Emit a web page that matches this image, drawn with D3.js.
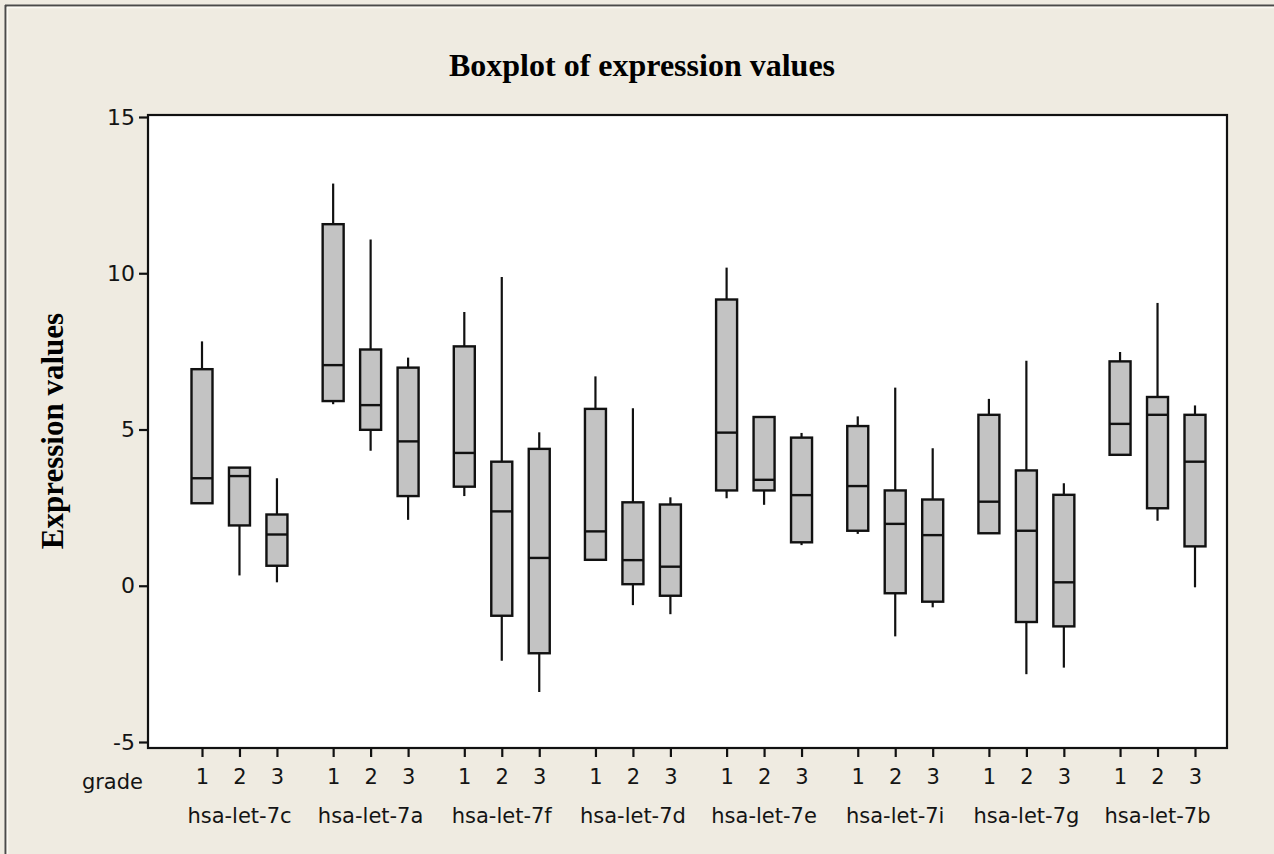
<!DOCTYPE html>
<html><head><meta charset="utf-8">
<script src="https://cdn.jsdelivr.net/npm/d3@7"></script>
<style>html,body{margin:0;padding:0;background:#EFEBE1;}svg{display:block;}</style>
</head><body>
<svg id="chart" width="1274" height="854"></svg>
<script>
// ---- data ----
const mirnas = ["hsa-let-7c","hsa-let-7a","hsa-let-7f","hsa-let-7d","hsa-let-7e","hsa-let-7i","hsa-let-7g","hsa-let-7b"];
const grades = ["1","2","3"];
const yTicks = [-5, 0, 5, 10, 15];
// per box, order: mirna-major, grade-minor
const whiskerLow  = [2.64,0.33,0.11, 5.81,4.32,2.11, 2.87,-2.40,-3.40, 0.83,-0.62,-0.91, 2.80,2.59,1.30, 1.66,-1.62,-0.69, 1.68,-2.83,-2.62, 4.19,2.08,-0.05];
const q1          = [2.64,1.93,0.64, 5.91,4.99,2.87, 3.17,-0.96,-2.16, 0.83,0.05,-0.32, 3.05,3.05,1.39, 1.76,-0.24,-0.51, 1.68,-1.16,-1.30, 4.19,2.48,1.26];
const medians     = [3.44,3.51,1.64, 7.06,5.78,4.62, 4.25,2.38,0.89, 1.74,0.82,0.61, 4.90,3.39,2.90, 3.19,1.98,1.62, 2.69,1.76,0.11, 5.18,5.47,3.97];
const q3          = [6.93,3.78,2.28, 11.57,7.56,6.98, 7.66,3.97,4.38, 5.66,2.67,2.60, 9.16,5.40,4.74, 5.11,3.05,2.76, 5.47,3.69,2.91, 7.18,6.04,5.47];
const whiskerHigh = [7.82,3.78,3.44, 12.87,11.08,7.30, 8.76,9.88,4.91, 6.70,5.68,2.83, 10.18,5.40,4.89, 5.42,6.34,4.40, 5.98,7.20,3.28, 7.48,9.05,5.77];

const boxes = [];
mirnas.forEach((m, gi) => grades.forEach((g, ii) => {
  const k = gi * 3 + ii;
  boxes.push({mirna: m, grade: g, pos: gi * 3.5 + ii,
    lo: whiskerLow[k], q1: q1[k], med: medians[k], q3: q3[k], hi: whiskerHigh[k]});
}));

const svg = d3.select("#chart");
const W = 1274, H = 854;
const frame = {left: 148, right: 1227, top: 115, bottom: 748};

const x = d3.scaleLinear().domain([0, 26.5]).range([202, 1195]);
const y = d3.scaleLinear().domain([-5, 15]).range([742, 117]);

// background + outer edge lines
svg.append("rect").attr("width", W).attr("height", H).attr("fill", "#EFEBE1");
svg.append("line").attr("x1", 5).attr("x2", W).attr("y1", 5.5).attr("y2", 5.5).attr("stroke", "#4a4a4a").attr("stroke-width", 2);
svg.append("line").attr("x1", 5.5).attr("x2", 5.5).attr("y1", 5).attr("y2", H).attr("stroke", "#4a4a4a").attr("stroke-width", 2);
svg.append("line").attr("x1", 7).attr("x2", W).attr("y1", 7.5).attr("y2", 7.5).attr("stroke", "#fbf9f4").attr("stroke-width", 1.5);
svg.append("line").attr("x1", 7.5).attr("x2", 7.5).attr("y1", 7).attr("y2", H).attr("stroke", "#fbf9f4").attr("stroke-width", 1.5);

// plot area
svg.append("rect").attr("x", frame.left).attr("y", frame.top)
  .attr("width", frame.right - frame.left).attr("height", frame.bottom - frame.top)
  .attr("fill", "#ffffff").attr("stroke", "#111").attr("stroke-width", 2.2);

// title
svg.append("text").attr("x", 642).attr("y", 76).attr("text-anchor", "middle")
  .attr("font-family", "'Liberation Serif', 'Times New Roman', serif").attr("font-weight", "bold")
  .attr("font-size", 32).attr("fill", "#000").text("Boxplot of expression values");

// y axis label
svg.append("text").attr("transform", "translate(63,431) rotate(-90)").attr("text-anchor", "middle")
  .attr("font-family", "'Liberation Serif', 'Times New Roman', serif").attr("font-weight", "bold")
  .attr("font-size", 31).attr("fill", "#000").text("Expression values");

// y axis
const yAxis = d3.axisLeft(y).tickValues(yTicks).tickSize(9).tickPadding(4).tickFormat(d => String(d));
const gy = svg.append("g").attr("transform", `translate(${frame.left},0)`).call(yAxis);
gy.select(".domain").remove();
gy.selectAll(".tick line").attr("stroke", "#111").attr("stroke-width", 2.2);
gy.selectAll(".tick text").attr("font-family", "'DejaVu Sans', Verdana, sans-serif")
  .attr("font-size", 22).attr("fill", "#141414");

// x axis (grade ticks)
const xAxis = d3.axisBottom(x).tickValues(boxes.map(b => b.pos)).tickSize(9).tickPadding(12)
  .tickFormat((d, i) => boxes[i].grade);
const gx = svg.append("g").attr("transform", `translate(0,${frame.bottom})`).call(xAxis);
gx.select(".domain").remove();
gx.selectAll(".tick line").attr("stroke", "#111").attr("stroke-width", 2.2);
gx.selectAll(".tick text").attr("font-family", "'DejaVu Sans', Verdana, sans-serif")
  .attr("font-size", 21).attr("fill", "#141414");

// "grade" label
svg.append("text").attr("x", 143).attr("y", 789).attr("text-anchor", "end")
  .attr("font-family", "'DejaVu Sans', Verdana, sans-serif").attr("font-size", 21)
  .attr("fill", "#141414").text("grade");

// mirna labels
svg.append("g").selectAll("text").data(mirnas).join("text")
  .attr("x", (d, i) => x(i * 3.5 + 1)).attr("y", 823).attr("text-anchor", "middle")
  .attr("font-family", "'DejaVu Sans', Verdana, sans-serif").attr("font-size", 21)
  .attr("fill", "#141414").text(d => d);

// boxes
const bw = 21;
const gb = svg.append("g");
const bg = gb.selectAll("g.box").data(boxes).join("g").attr("class", "box");
bg.append("line").attr("x1", d => x(d.pos)).attr("x2", d => x(d.pos))
  .attr("y1", d => y(d.hi)).attr("y2", d => y(d.q3)).attr("stroke", "#111").attr("stroke-width", 2.2);
bg.append("line").attr("x1", d => x(d.pos)).attr("x2", d => x(d.pos))
  .attr("y1", d => y(d.q1)).attr("y2", d => y(d.lo)).attr("stroke", "#111").attr("stroke-width", 2.2);
bg.append("rect").attr("x", d => x(d.pos) - bw / 2).attr("width", bw)
  .attr("y", d => y(d.q3)).attr("height", d => y(d.q1) - y(d.q3))
  .attr("fill", "#C3C3C3").attr("stroke", "#111").attr("stroke-width", 2.4);
bg.append("line").attr("x1", d => x(d.pos) - bw / 2).attr("x2", d => x(d.pos) + bw / 2)
  .attr("y1", d => y(d.med)).attr("y2", d => y(d.med)).attr("stroke", "#111").attr("stroke-width", 2.4);
</script>
</body></html>
